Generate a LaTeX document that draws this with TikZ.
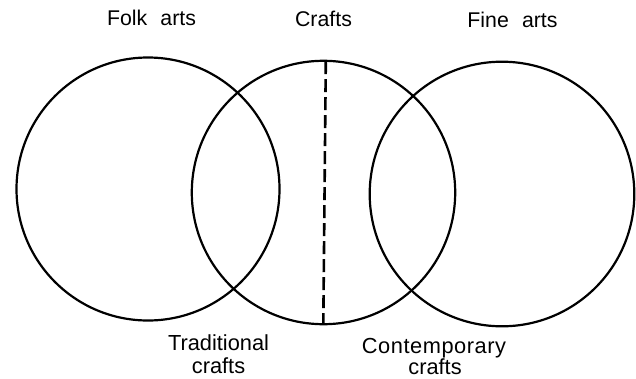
\documentclass[tikz,border=0pt]{standalone}
\usepackage{fontspec}
\setmainfont{Liberation Sans}
\begin{document}
\begin{tikzpicture}[x=1pt,y=-1pt,
  ring/.style={draw=black, line width=2.2pt, circle, inner sep=0pt, outer sep=0pt},
  lbl/.style={font=\fontsize{21.3}{23}\selectfont, anchor=base, inner sep=0pt, align=center},
  lblb/.style={font=\fontsize{21.8}{23}\selectfont, anchor=base, inner sep=0pt, align=center},
  divider/.style={line width=2.6pt, dash pattern=on 13pt off 5pt}]
\useasboundingbox (0,0) rectangle (636,378);
\node[ring, minimum size=263pt] (folk) at (148,189) {};
\node[ring, minimum size=263.4pt] (crafts) at (323.5,192.5) {};
\node[ring, minimum size=264.6pt] (fine) at (502,194) {};
\coordinate (dtop) at (325.8,61.2);
\coordinate (dbot) at (323.3,323.8);
\draw[divider] (dtop) -- (dbot);
\node[lbl] (tfolk) at (151.5,25) {Folk\hspace{0.62em}arts};
\node[lbl] (tcrafts) at (323.5,26.8) {Crafts};
\node[lbl] (tfine) at (512.5,27.3) {Fine\hspace{0.62em}arts};
\node[lblb] (ttrad1) at (218.5,350.7) {Traditional};
\node[lblb] (ttrad2) at (218.5,373.3) {crafts};
\node[lblb] (tcont1) at (434,353.3) {\addfontfeatures{LetterSpace=2.5}Contemporary};
\node[lblb] (tcont2) at (435,374.5) {crafts};
\end{tikzpicture}
\end{document}
